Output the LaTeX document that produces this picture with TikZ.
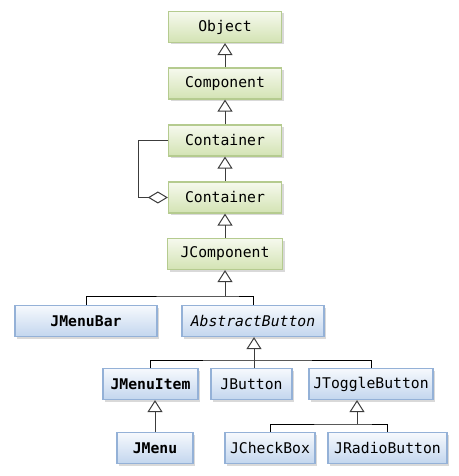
\documentclass[tikz,border=0pt]{standalone}
\usepackage{fontspec}
\setmonofont{DejaVu Sans Mono}
\usetikzlibrary{arrows.meta,shadows}
\definecolor{greentop}{HTML}{F6F9EE}
\definecolor{greenbot}{HTML}{D3E3B3}
\definecolor{greenline}{HTML}{B5CB8F}
\definecolor{bluetop}{HTML}{F6F9FD}
\definecolor{bluebot}{HTML}{C3D6EE}
\definecolor{blueline}{HTML}{94B1D7}
\definecolor{linegray}{HTML}{3C3C3C}
\tikzset{
  classbox/.style={draw, line width=1.2pt, minimum height=31bp, inner sep=0pt,
    font=\ttfamily\fontsize{14.8}{17}\selectfont,
    drop shadow={shadow xshift=2bp, shadow yshift=-2bp, opacity=.25, fill=black!60}},
  awtbox/.style={classbox, draw=greenline, top color=greentop, bottom color=greenbot},
  swingbox/.style={classbox, draw=blueline, top color=bluetop, bottom color=bluebot},
  inherit/.style={draw=linegray, line width=1pt, -{Triangle[open, width=15bp, length=12bp, line width=1pt]}},
  tree/.style={draw=black, line width=0.9pt},
  aggr/.style={draw=linegray, line width=1pt, -{Diamond[open, width=12bp, length=20bp, line width=1pt]}}
}
\begin{document}
\begin{tikzpicture}[x=1bp,y=-1bp]
	
	% Marco
	\useasboundingbox (0,0) rectangle (459,476);
	
	% Clases AWT
	\node[awtbox, minimum width=113bp] (object) at (225,27) {Object};
	\node[awtbox, minimum width=113bp] (component) at (225,83.5) {Component};
	\node[awtbox, minimum width=113bp] (container) at (225,140.5) {Container};
	\node[awtbox, minimum width=113bp] (containerb) at (225,197.5) {Container};
	\node[awtbox, minimum width=115bp] (jcomponent) at (225,254) {JComponent};
	
	% Clases Swing
	\node[swingbox, minimum width=142bp] (jmenubar) at (86,321) {\bfseries JMenuBar};
	\node[swingbox, minimum width=142bp] (abstractbutton) at (253,321) {\itshape AbstractButton};
	\node[swingbox, minimum width=95bp] (jmenuitem) at (150.5,384) {\bfseries JMenuItem};
	\node[swingbox, minimum width=81bp] (jbutton) at (251.5,384) {JButton};
	\node[swingbox, minimum width=124bp] (jtogglebutton) at (371,384) {JToggleButton};
	\node[swingbox, minimum width=76bp] (jmenu) at (155,448) {\bfseries JMenu};
	\node[swingbox, minimum width=90bp] (jcheckbox) at (270,448) {JCheckBox};
	\node[swingbox, minimum width=119bp] (jradiobutton) at (387.5,448) {JRadioButton};
	
	% Herencia
	\draw[inherit] (component) -- (object);
	\draw[inherit] (container) -- (component);
	\draw[inherit] (containerb) -- (container);
	\draw[inherit] (jcomponent) -- (containerb);
	
	\coordinate (bus1) at (225,296);
	\draw[tree] (jmenubar.north) |- (bus1) -| (abstractbutton.north);
	\draw[inherit] (bus1) -- (jcomponent.south);
	
	\coordinate (bus2) at (254,360);
	\draw[tree] (jmenuitem.north) |- (bus2) -| (jtogglebutton.north);
	\draw[inherit] (jbutton.north -| bus2) -- (abstractbutton.south -| bus2);
	
	\draw[inherit] (jmenu.north) -- (jmenuitem.south -| jmenu.north);
	
	\coordinate (bus3) at (357,424);
	\draw[tree] (jcheckbox.north) |- (bus3) -| (jradiobutton.north);
	\draw[inherit] (bus3) -- (jtogglebutton.south -| bus3);
	
	% Agregación
	\draw[aggr] (container.west) -- ++(-29,0) |- (containerb.west);
	
\end{tikzpicture}
\end{document}
